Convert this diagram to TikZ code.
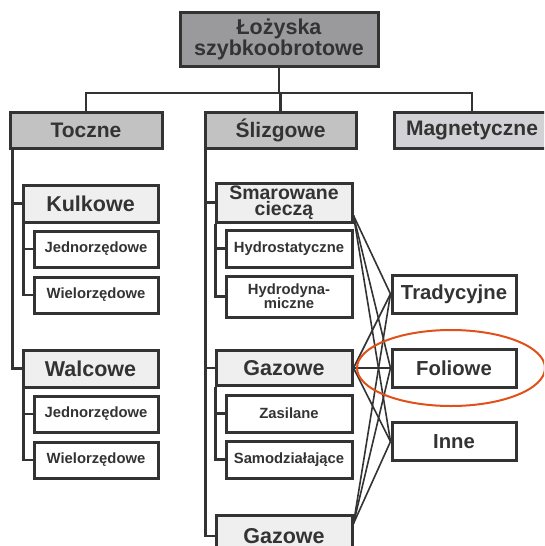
\documentclass[tikz,border=0pt]{standalone}
\usepackage{fontspec}
\setmainfont{Liberation Sans}
\usepackage{tikz}
\definecolor{ink}{HTML}{333333}
\definecolor{rootgray}{HTML}{9A9A9C}
\definecolor{midgray}{HTML}{C2C2C2}
\definecolor{maggray}{HTML}{D2D2D6}
\definecolor{lightgray}{HTML}{EFEFEF}
\definecolor{ringred}{HTML}{E2501A}

\begin{document}
\begin{tikzpicture}[x=1pt,y=-1pt,
    box/.style={draw=ink,line width=3pt,text=ink,inner sep=0pt,align=center},
    rootbox/.style={box,fill=rootgray,minimum width=198pt,minimum height=54pt,font=\bfseries\fontsize{21.5}{20}\selectfont},
    groupbox/.style={box,fill=midgray,minimum width=152pt,minimum height=36pt,font=\bfseries\fontsize{21}{21}\selectfont},
    kindbox/.style={box,fill=lightgray,minimum width=136pt,minimum height=37pt,font=\bfseries\fontsize{21.5}{21}\selectfont},
    leafbox/.style={box,fill=white,minimum width=124pt,minimum height=36pt,font=\bfseries\fontsize{14.8}{14}\selectfont},
    typebox/.style={box,fill=white,minimum width=124pt,minimum height=38pt,font=\bfseries\fontsize{20.3}{20}\selectfont},
    tree/.style={draw=ink,line width=2.6pt},
    fan/.style={draw=ink,line width=1.6pt}]
    \useasboundingbox (0,0) rectangle (544,546);
    \clip (0,0) rectangle (544,546);

    % top level
    \draw (279,39) node (root) [rootbox] {Łożyska\\szybkoobrotowe};
    \draw (86,130) node (toczne) [groupbox] {Toczne};
    \draw (280.5,130) node (slizg) [groupbox,minimum width=151pt] {Ślizgowe};
    \draw (472,130) node (magn) [groupbox,fill=maggray,minimum width=156pt] {Magnetyczne};
    \coordinate (bus) at (279,93);
    \draw[tree] (root.south) -- (bus);
    \draw[tree] (toczne.north) |- (bus) -| (magn.north);
    \draw[tree] (slizg.north) -- (slizg.north |- bus);

    % rolling bearings
    \draw (90.5,203.5) node (kulk) [kindbox,minimum width=135pt] {Kulkowe};
    \draw (96,249) node (jedn1) [leafbox] {Jednorzędowe};
    \draw (96,295) node (wiel1) [leafbox] {Wielorzędowe};
    \draw (90.5,368.5) node (walc) [kindbox,minimum width=135pt] {Walcowe};
    \draw (96,414) node (jedn2) [leafbox] {Jednorzędowe};
    \draw (96,460) node (wiel2) [leafbox] {Wielorzędowe};
    \coordinate (trail) at ([xshift=4pt]toczne.south west);
    \draw[tree] (trail) |- (walc.west);
    \draw[tree] (trail |- kulk.west) -- (kulk.west);
    \coordinate (krail) at ([xshift=2pt]kulk.south west);
    \draw[tree] (krail) |- (wiel1.west);
    \draw[tree] (krail |- jedn1.west) -- (jedn1.west);
    \coordinate (wrail) at ([xshift=2pt]walc.south west);
    \draw[tree] (wrail) |- (wiel2.west);
    \draw[tree] (wrail |- jedn2.west) -- (jedn2.west);

    % sliding bearings
    \draw (284,202.5) node (smar) [kindbox,minimum height=39pt,font=\bfseries\fontsize{19.5}{16}\selectfont] {Smarowane\\cieczą};
    \draw (289,248.5) node (hst) [leafbox,minimum width=126pt,minimum height=37pt] {Hydrostatyczne};
    \draw (289,296.5) node (hdyn) [leafbox,minimum width=126pt,minimum height=41pt] {Hydrodyna-\\miczne};
    \draw (284,368) node (gaz) [kindbox,minimum height=35pt] {Gazowe};
    \draw (289,413.5) node (zas) [leafbox,minimum width=126pt,minimum height=37pt] {Zasilane};
    \draw (289,459.5) node (samo) [leafbox,minimum width=126pt,minimum height=37pt] {Samodziałające};
    \draw (284,536) node (gazb) [kindbox,minimum height=42pt] {Gazowe};
    \coordinate (srail) at ([xshift=2pt]slizg.south west);
    \draw[tree] (srail) |- (gazb.west);
    \draw[tree] (srail |- smar.west) -- (smar.west);
    \draw[tree] (srail |- gaz.west) -- (gaz.west);
    \coordinate (mrail) at ([xshift=1pt]smar.south west);
    \draw[tree] (mrail) |- (hdyn.west);
    \draw[tree] (mrail |- hst.west) -- (hst.west);
    \coordinate (grail) at ([xshift=1pt]gaz.south west);
    \draw[tree] (grail) |- (samo.west);
    \draw[tree] (grail |- zas.west) -- (zas.west);

    % design types
    \draw (454,294) node (trad) [typebox] {Tradycyjne};
    \draw (454,368) node (fol) [typebox] {Foliowe};
    \draw (454,441.5) node (inne) [typebox] {Inne};
    \coordinate (sm) at ([yshift=8pt]smar.south east);
    \coordinate (gz) at (gaz.east);
    \coordinate (gb) at ([yshift=-10pt]gazb.north east);
    \foreach \s in {sm,gz,gb}
        \foreach \t in {trad,fol,inne}
            \draw[fan] (\s) -- (\t.west);

    \draw[ringred,line width=2pt] (fol.center) ++(-3,0) ellipse [x radius=94, y radius=38];
\end{tikzpicture}
\end{document}
